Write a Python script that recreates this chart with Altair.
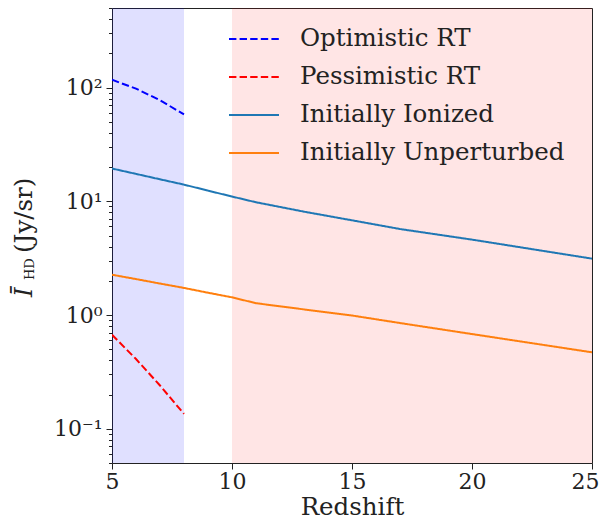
import altair as alt
import pandas as pd

# ---- data ----
z_rt = [5, 6, 7, 8]
optimistic_rt = [117, 97.7, 77.3, 58]
pessimistic_rt = [0.67, 0.41, 0.24, 0.135]

z_sim = [5, 6, 7, 8, 9, 10, 11, 13, 15, 17, 20, 25]
initially_ionized = [19.4, 17.4, 15.6, 14.0, 12.4, 11.0, 9.8, 8.1, 6.8, 5.7, 4.6, 3.13]
initially_unperturbed = [2.26, 2.07, 1.89, 1.73, 1.57, 1.43, 1.27, 1.12, 0.99, 0.85, 0.68, 0.47]

series_names = ["Optimistic RT", "Pessimistic RT", "Initially Ionized", "Initially Unperturbed"]
series_colors = ["#0000ff", "#ff0000", "#1f77b4", "#ff7f0e"]
series_dash = [[7.4, 3.2], [7.4, 3.2], [1, 0], [1, 0]]

band_start = [5, 10]
band_end = [8, 25]
band_colors = ["#0000ff", "#ff0000"]
band_alpha = [0.12, 0.1]

x_ticks = [5, 10, 15, 20, 25]
y_major = [0.1, 1, 10, 100]
y_minor = [0.05, 0.06, 0.07, 0.08, 0.09,
           0.2, 0.3, 0.4, 0.5, 0.6, 0.7, 0.8, 0.9,
           2, 3, 4, 5, 6, 7, 8, 9,
           20, 30, 40, 50, 60, 70, 80, 90,
           200, 300, 400, 500]

W, H = 480, 455
FONT = "DejaVu Serif"
INK = "#222222"

rows = []
for z, v in zip(z_rt, optimistic_rt):
    rows.append({"z": z, "v": v, "series": series_names[0]})
for z, v in zip(z_rt, pessimistic_rt):
    rows.append({"z": z, "v": v, "series": series_names[1]})
for z, v in zip(z_sim, initially_ionized):
    rows.append({"z": z, "v": v, "series": series_names[2]})
for z, v in zip(z_sim, initially_unperturbed):
    rows.append({"z": z, "v": v, "series": series_names[3]})
df = pd.DataFrame(rows)

bands = pd.DataFrame({"start": band_start, "end": band_end,
                      "color": band_colors, "alpha": band_alpha})

x_scale = alt.Scale(domain=[5, 25], nice=False, zero=False)
y_scale = alt.Scale(type="log", domain=[0.05, 500], nice=False)

last_x = "datum.value == 25"
x_axis = alt.Axis(values=x_ticks, title="Redshift", labelFont=FONT, labelFontSize=22,
                  labelColor=INK, titleFont=FONT, titleFontSize=24.5,
                  titleFontWeight="normal", titleColor=INK, titlePadding=3,
                  tickSize=6, tickColor=INK, domain=False, grid=False,
                  labelPadding=2, labelFlush=False, labelOverlap=False,
                  labelAlign={"condition": {"test": last_x, "value": "right"}, "value": "center"},
                  labelOffset={"condition": {"test": last_x, "value": 7}, "value": 0})

major_test = "indexof([0.1, 1, 10, 100], datum.value) >= 0"
y_axis = alt.Axis(
    values=y_major + y_minor, title=None, labelFont=FONT, labelFontSize=22,
    labelColor=INK, domain=False, grid=False, tickColor=INK,
    tickSize={"condition": {"test": major_test, "value": 6}, "value": 3.5},
    labelExpr=("datum.value == 100 ? '10²' : datum.value == 10 ? '10¹' : "
               "datum.value == 1 ? '10⁰' : datum.value == 0.1 ? '10⁻¹' : ''"),
    labelPadding=4, labelOverlap=False, labelBound=False, labelFlush=False,
)

rects = alt.Chart(bands).mark_rect().encode(
    x=alt.X("start:Q", scale=x_scale, axis=x_axis),
    x2="end:Q",
    y=alt.value(0),
    y2=alt.value(H),
    color=alt.Color("color:N", scale=None),
    opacity=alt.Opacity("alpha:Q", scale=None),
)

legend_kw = dict(
    orient="none", legendX=116, legendY=5, title=None,
    labelFont=FONT, labelFontSize=24.5, labelColor=INK, labelLimit=500,
    symbolType="stroke", symbolSize=2500, symbolStrokeWidth=2,
    rowPadding=-12, labelOffset=20, padding=0, symbolOpacity=1,
)

lines = alt.Chart(df).mark_line(strokeWidth=2, clip=True).encode(
    x=alt.X("z:Q", scale=x_scale, axis=x_axis),
    y=alt.Y("v:Q", scale=y_scale, axis=y_axis),
    color=alt.Color("series:N", scale=alt.Scale(domain=series_names, range=series_colors),
                    legend=alt.Legend(**legend_kw)),
    strokeDash=alt.StrokeDash("series:N", scale=alt.Scale(domain=series_names, range=series_dash),
                              legend=alt.Legend(**legend_kw)),
)

label_I = alt.Chart().mark_text(
    text="Ī", font=FONT, fontStyle="italic", fontSize=24.5, angle=270,
    align="left", baseline="alphabetic", color=INK,
).encode(x=alt.value(-80), y=alt.value(289))

label_sub = alt.Chart().mark_text(
    text="HD", font=FONT, fontSize=13, angle=270,
    align="left", baseline="alphabetic", color=INK,
).encode(x=alt.value(-78), y=alt.value(272))

label_unit = alt.Chart().mark_text(
    text="(Jy/sr)", font=FONT, fontSize=24.5, angle=270,
    align="left", baseline="alphabetic", color=INK,
).encode(x=alt.value(-80), y=alt.value(245))

chart = alt.layer(rects, lines, label_I, label_sub, label_unit).properties(
    width=W, height=H,
    padding={"left": 104, "top": 0, "right": 8, "bottom": 56},
    autosize=alt.AutoSizeParams(type="none"),
).configure_view(stroke=INK, strokeWidth=1)

chart.save("out.html", embed_options={"renderer": "svg", "actions": False})
